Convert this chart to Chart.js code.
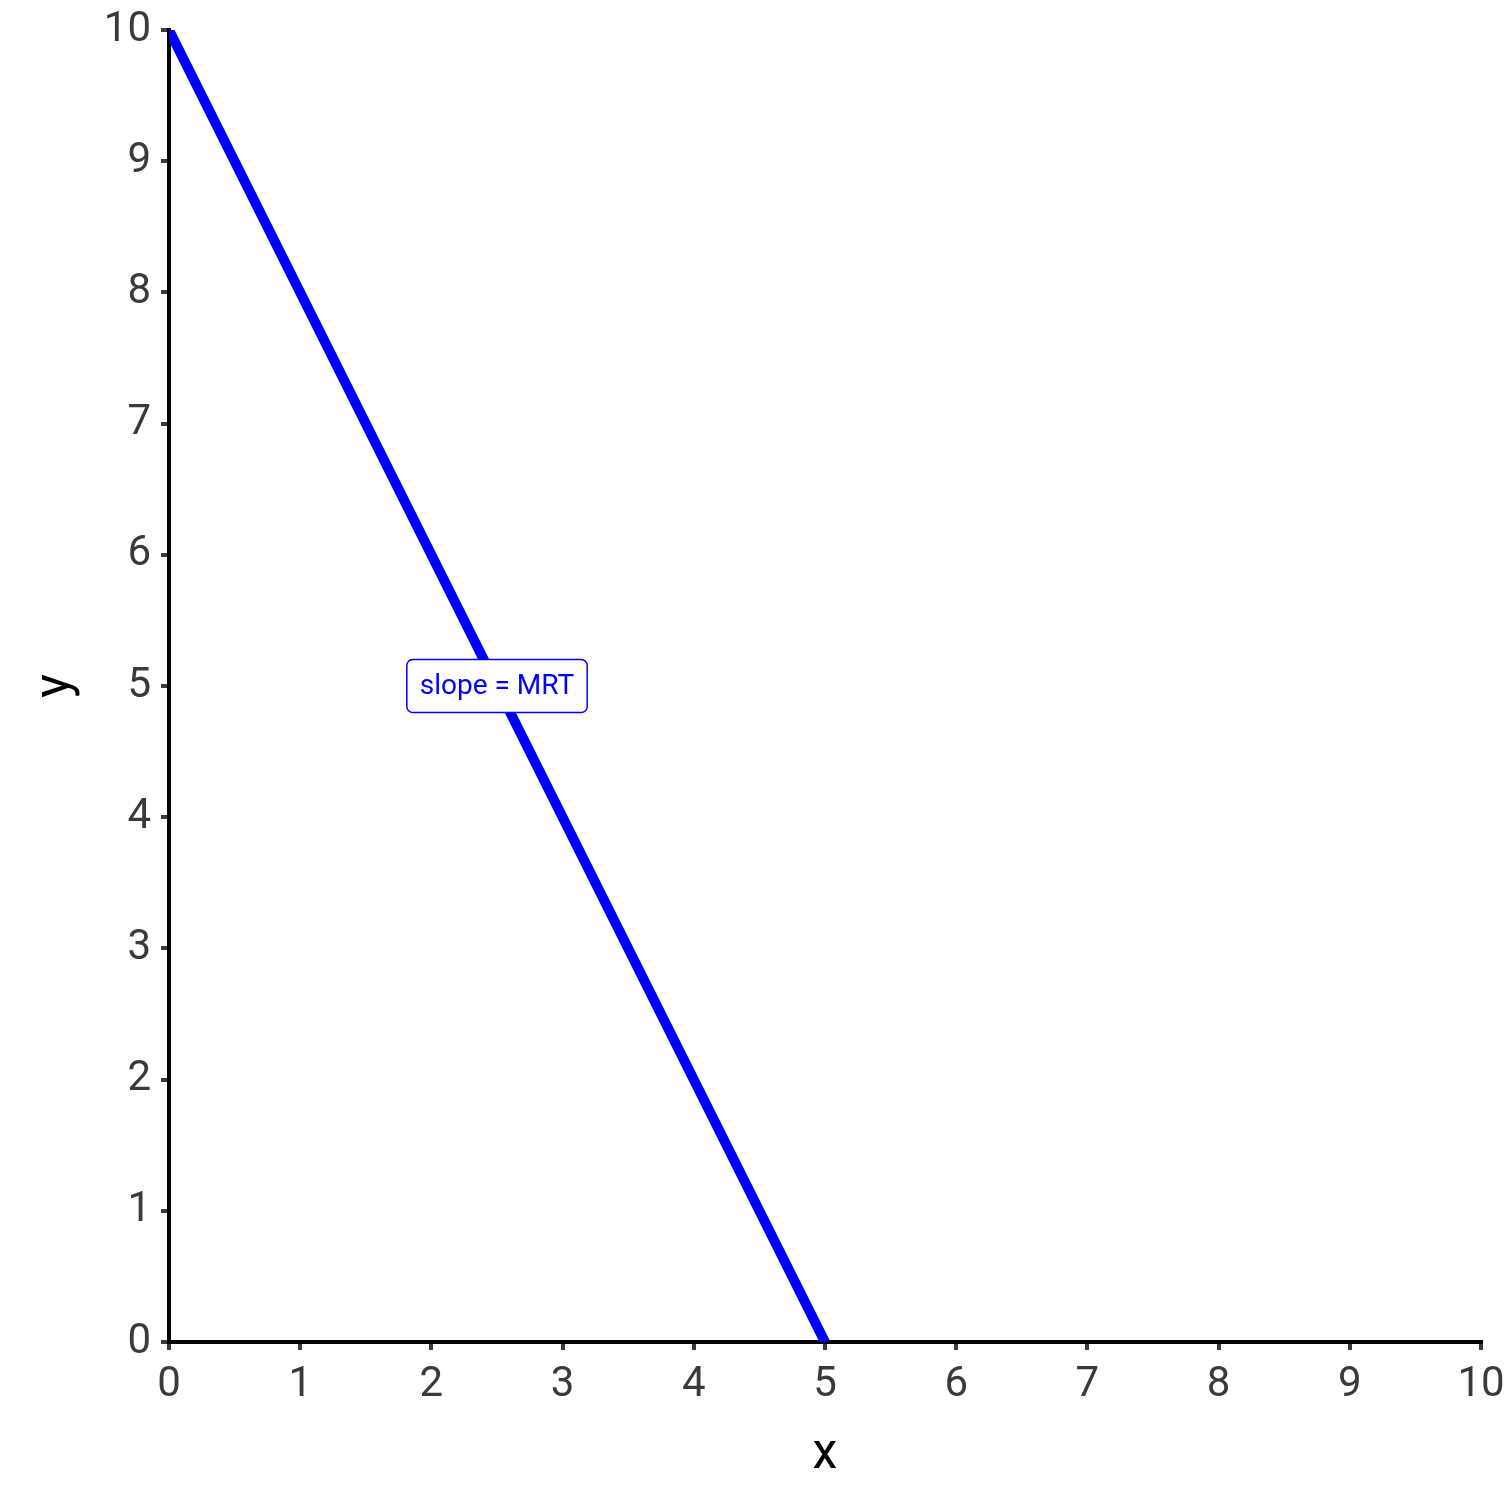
<!DOCTYPE html>
<html>
<head>
<meta charset="utf-8">
<script src="https://cdn.jsdelivr.net/npm/chart.js@4"></script>
<style>
  html, body { margin: 0; padding: 0; background: #fff; }
  #wrap { width: 1512px; height: 1512px; }
</style>
</head>
<body>
<div id="wrap"><canvas id="chart"></canvas></div>
<script>
// Budget line data
const lineX = [0, 5];
const lineY = [10, 0];
const tickValues = [0, 1, 2, 3, 4, 5, 6, 7, 8, 9, 10];
const labelText = 'slope = MRT';
const labelPos = { x: 2.5, y: 5 };

const blue = '#0000ff';
const tickColor = '#3a3a3a';
const fontFamily = 'Roboto, "Open Sans", sans-serif';

// Draws the boxed annotation at a data position
const labelPlugin = {
    id: 'slopeLabel',
    afterDatasetsDraw(chart) {
        const ctx = chart.ctx;
        const px = chart.scales.x.getPixelForValue(labelPos.x);
        const py = chart.scales.y.getPixelForValue(labelPos.y);
        ctx.save();
        ctx.font = '28px ' + fontFamily;
        const w = ctx.measureText(labelText).width + 26;
        const h = 53;
        ctx.beginPath();
        ctx.roundRect(px - w / 2, py - h / 2, w, h, 6);
        ctx.fillStyle = '#fff';
        ctx.fill();
        ctx.lineWidth = 1.5;
        ctx.strokeStyle = blue;
        ctx.stroke();
        ctx.fillStyle = blue;
        ctx.textAlign = 'center';
        ctx.textBaseline = 'middle';
        ctx.fillText(labelText, px, py + 1);
        ctx.restore();
    }
};

const tickOpts = {
    color: tickColor,
    font: { family: fontFamily, size: 42 },
    padding: 10,
    autoSkip: false
};

new Chart(document.getElementById('chart'), {
    type: 'scatter',
    data: {
        datasets: [{
            data: lineX.map((x, i) => ({ x: x, y: lineY[i] })),
            showLine: true,
            borderColor: blue,
            borderWidth: 10,
            pointRadius: 0,
            borderCapStyle: 'butt'
        }]
    },
    options: {
        responsive: true,
        maintainAspectRatio: false,
        animation: false,
        layout: { padding: { top: 30, right: 31, left: 0, bottom: 0 } },
        plugins: { legend: { display: false }, tooltip: { enabled: false } },
        scales: {
            x: {
                type: 'linear',
                min: 0,
                max: 10,
                afterBuildTicks: s => { s.ticks = tickValues.map(v => ({ value: v })); },
                afterFit: s => { s.height = 170; s.paddingLeft = 0; s.paddingRight = 0; },
                border: { color: '#000', width: 4 },
                grid: { drawOnChartArea: false, color: tickColor, lineWidth: 4, tickLength: 8 },
                ticks: Object.assign({ maxRotation: 0 }, tickOpts),
                title: { display: true, text: 'x', color: '#000', font: { family: fontFamily, size: 50 }, padding: { top: 0, bottom: 27 } }
            },
            y: {
                type: 'linear',
                min: 0,
                max: 10,
                afterBuildTicks: s => { s.ticks = tickValues.map(v => ({ value: v })); },
                afterFit: s => { s.width = 169; s.paddingTop = 0; s.paddingBottom = 0; },
                border: { color: '#000', width: 4 },
                grid: { drawOnChartArea: false, color: tickColor, lineWidth: 4, tickLength: 8 },
                ticks: tickOpts,
                title: { display: true, text: 'y', color: '#000', font: { family: fontFamily, size: 50 }, padding: { top: 26, bottom: 0 } }
            }
        }
    },
    plugins: [labelPlugin]
});
</script>
</body>
</html>
